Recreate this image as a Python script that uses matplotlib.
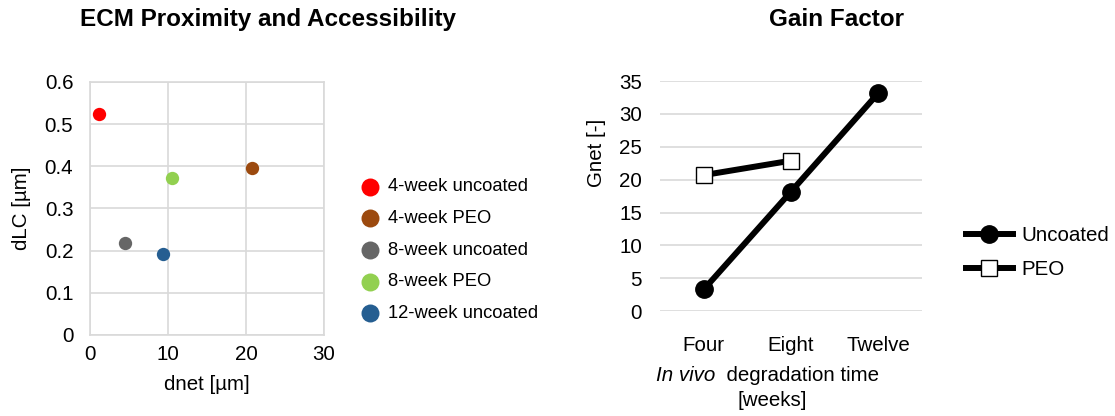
import matplotlib.pyplot as plt

plt.rcParams['font.family'] = ['Liberation Sans', 'DejaVu Sans']

# scatter data: ECM proximity vs accessibility
groups = ['4-week uncoated', '4-week PEO', '8-week uncoated', '8-week PEO', '12-week uncoated']
dnet = [1.2, 20.8, 4.5, 10.5, 9.3]
dlc = [0.525, 0.397, 0.218, 0.373, 0.192]
colors = ['#ff0000', '#9c4a0f', '#666666', '#92d050', '#255e91']

# gain factor per degradation time
weeks = ['Four', 'Eight', 'Twelve']
gnet_uncoated = [3.3, 18.2, 33.2]
gnet_peo = [20.7, 22.9]

fig = plt.figure(figsize=(11.15, 4.16), dpi=100)
grid_c = '#d9d9d9'
fs = 14.8

# left panel
ax1 = fig.add_axes([0.0807, 0.195, 0.2099, 0.608])
for x, y, c, g in zip(dnet, dlc, colors, groups):
    ax1.scatter(x, y, s=92, color=c, label=g, zorder=3, linewidths=0)
ax1.set_xlim(0, 30)
ax1.set_ylim(0, 0.6)
ax1.set_xticks([0, 10, 20, 30])
ax1.set_yticks([0, 0.1, 0.2, 0.3, 0.4, 0.5, 0.6])
ax1.set_yticklabels(['0', '0.1', '0.2', '0.3', '0.4', '0.5', '0.6'])
ax1.grid(True, color=grid_c, lw=1.2)
ax1.set_axisbelow(True)
for s in ax1.spines.values():
    s.set_color(grid_c)
    s.set_linewidth(1.2)
ax1.tick_params(length=0, labelsize=fs)
ax1.tick_params(axis='y', pad=12)
ax1.tick_params(axis='x', pad=7)
ax1.set_xlabel('dnet [µm]', fontsize=fs, labelpad=8)
ax1.set_ylabel('dLC [µm]', fontsize=fs, labelpad=10)
fig.text(0.24, 0.952, 'ECM Proximity and Accessibility', fontsize=17.5, fontweight='bold',
         ha='center', va='center')
ax1.legend(loc='center left', bbox_to_anchor=(1.085, 0.335), frameon=False, fontsize=13.2,
           handletextpad=0.0, labelspacing=0.8, markerscale=1.35, borderaxespad=0)

# right panel
ax2 = fig.add_axes([0.592, 0.252, 0.235, 0.553])
xs = range(len(weeks))
ax2.plot(xs, gnet_uncoated, color='black', lw=4.3, marker='o', ms=12.5, label='Uncoated', zorder=3)
ax2.plot(xs[:len(gnet_peo)], gnet_peo, color='black', lw=4.3, marker='s', ms=12,
         markerfacecolor='white', markeredgecolor='black', markeredgewidth=1.0,
         label='PEO', zorder=4)
ax2.set_xlim(-0.5, 2.5)
ax2.set_ylim(0, 35)
ax2.set_yticks(range(0, 36, 5))
ax2.set_xticks(list(xs))
ax2.set_xticklabels(weeks)
ax2.yaxis.grid(True, color=grid_c, lw=1.2)
ax2.set_axisbelow(True)
for s in ax2.spines.values():
    s.set_visible(False)
ax2.tick_params(length=0, labelsize=fs)
ax2.tick_params(axis='y', pad=13)
ax2.tick_params(axis='x', pad=18)
ax2.set_ylabel('Gnet [-]', fontsize=fs)
ax2.yaxis.set_label_coords(-0.205, 0.69)

# x label: italic "In vivo" followed by plain text, second line centred below
t1 = ax2.text(-0.015, -0.278, 'In vivo', style='italic', fontsize=fs,
              ha='left', va='center', transform=ax2.transAxes)
ax2.annotate('  degradation time', xy=(1, 0), xycoords=t1, fontsize=fs,
             ha='left', va='bottom')
ax2.text(0.427, -0.387, '[weeks]', fontsize=fs, ha='center', va='center',
         transform=ax2.transAxes)

fig.text(0.75, 0.952, 'Gain Factor', fontsize=17.5, fontweight='bold', ha='center', va='center')
ax2.legend(loc='center left', bbox_to_anchor=(1.135, 0.255), frameon=False, fontsize=fs,
           handlelength=2.3, handletextpad=0.4, labelspacing=0.7, borderaxespad=0)

fig.savefig('out.png', dpi=100)
